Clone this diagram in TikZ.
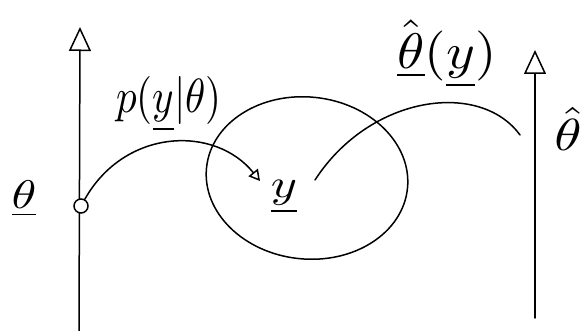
\documentclass[tikz,border=0pt]{standalone}
\usetikzlibrary{arrows.meta}
\newcommand{\hwlabel}[3]{\scalebox{#1}[#2]{$#3$}}
\begin{document}
\begin{tikzpicture}[x=1pt,y=-1pt,line width=1.5pt,line cap=round,
  axis/.style={-{Triangle[open,length=24pt,width=22pt,line width=1.5pt]}},
  lbl/.style={inner sep=0pt}]
\useasboundingbox (0,0) rectangle (588,331);
% left axis
\coordinate (Lb) at (79,331);
\coordinate (Lt) at (80,27);
\draw[axis] (Lb) -- (Lt);
% right axis
\coordinate (Rb) at (535,318);
\coordinate (Rt) at (535,50);
\draw[axis] (Rb) -- (Rt);
% small circle on left axis
\node[circle,draw,minimum size=14pt,inner sep=0pt,fill=white] (o) at (81,206) {};
% ellipse of data
\draw[rotate around={-6:(307,178)}] (307,178) ellipse [x radius=101, y radius=81];
% labels
\node[lbl] (th) at (24,199) {\hwlabel{5}{4}{\underline{\theta}}};
\node[lbl] (p) at (169,104) {\hwlabel{4.1}{4.8}{p(\underline{y}|\theta)}};
\node[lbl] (y) at (284,197) {\hwlabel{5}{4}{\underline{y}}};
\node[lbl] (thy) at (447,54) {\hwlabel{5.5}{5}{\hat{\underline{\theta}}(\underline{y})}};
\node[lbl] (thh) at (568,129) {\hwlabel{5.5}{4.5}{\hat{\theta}}};
% curves
\coordinate (a1) at (260,181);
\draw[-{Triangle[open,length=11pt,width=12pt,line width=1.5pt]}] (o) .. controls (125,128) and (215,125) .. (a1);
\coordinate (s2) at (315,180);
\coordinate (e2) at (520,135);
\draw (s2) .. controls (370,95) and (480,80) .. (e2);
\end{tikzpicture}
\end{document}
